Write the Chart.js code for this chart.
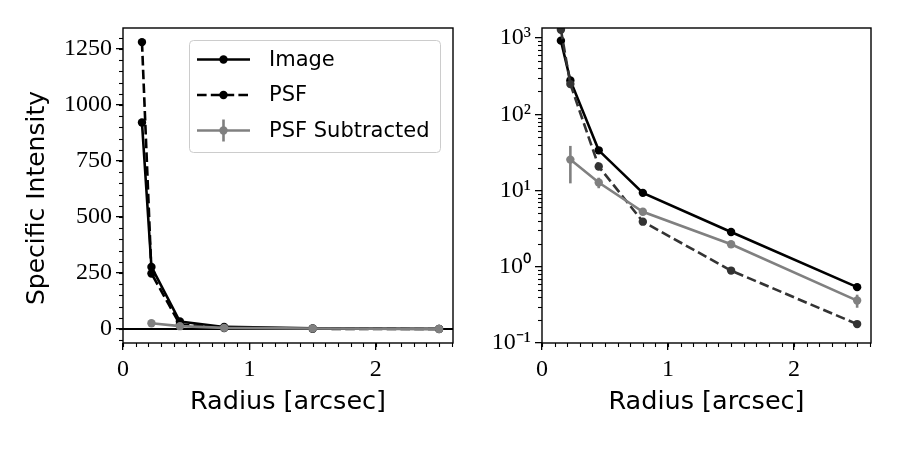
<!DOCTYPE html>
<html><head><meta charset="utf-8">
<script src="https://cdn.jsdelivr.net/npm/chart.js@4/dist/chart.umd.min.js"></script>
<style>
html,body{margin:0;padding:0;background:#fff;width:900px;height:450px;overflow:hidden}
#c1{position:absolute;left:0;top:0}
#c2{position:absolute;left:450px;top:0}
</style></head><body>
<canvas id="c1" width="460" height="450"></canvas>
<canvas id="c2" width="450" height="450"></canvas>
<script>
// ---- data ----
const radius = [0.15, 0.225, 0.45, 0.8, 1.5, 2.5];
const imageVals = [922, 277, 33.6, 9.3, 2.85, 0.54];
const psfVals = [1281, 248, 20.6, 3.9, 0.89, 0.177];
const subVals = [null, 25.4, 12.7, 5.25, 1.97, 0.36];
const subErr = [null, 13, 2, 0.3, 0.12, 0.07];
const linTicks = [0, 250, 500, 750, 1000, 1250];
const logTicks = [0.1, 1, 10, 100, 1000];
const logTickLabels = ['10\u207B\u00B9', '10\u2070', '10\u00B9', '10\u00B2', '10\u00B3'];
const xTicks = [0, 1, 2];
const seriesNames = ['Image', 'PSF', 'PSF Subtracted'];

const SANS = 'DejaVu Sans';
const SERIF = 'Liberation Serif';
Chart.defaults.color = '#000';

function pts(vals){ return radius.map((r,i)=>({x:r, y:vals[i]})); }

function datasets(psfColor){
  return [
    {label:seriesNames[0], data:pts(imageVals), borderColor:'#000', backgroundColor:'#000', borderWidth:2.6, pointRadius:4.2, pointBorderWidth:0, order:3},
    {label:seriesNames[1], data:pts(psfVals), borderColor:psfColor, backgroundColor:psfColor, borderWidth:2.6, borderDash:[9.6,4.2], pointRadius:4.2, pointBorderWidth:0, order:2},
    {label:seriesNames[2], data:pts(subVals), borderColor:'#808080', backgroundColor:'#808080', borderWidth:2.6, pointRadius:4.2, pointBorderWidth:0, order:1, errors:subErr}
  ];
}

const framePlugin = {
  id:'frame',
  beforeDatasetsDraw(chart){
    const o = chart.options.plugins.frame || {};
    const {ctx, chartArea:a} = chart;
    if (o.hline !== undefined){
      const y = chart.scales.y.getPixelForValue(o.hline);
      ctx.save(); ctx.strokeStyle='#000'; ctx.lineWidth=1.8;
      ctx.beginPath(); ctx.moveTo(a.left,y); ctx.lineTo(a.right,y); ctx.stroke(); ctx.restore();
    }
  },
  afterDatasetsDraw(chart){
    const {ctx, chartArea:a} = chart;
    chart.data.datasets.forEach(ds=>{
      if(!ds.errors) return;
      ctx.save();
      ctx.beginPath(); ctx.rect(a.left,a.top,a.right-a.left,a.bottom-a.top); ctx.clip();
      ctx.strokeStyle = ds.borderColor; ctx.lineWidth = 2.6;
      ds.data.forEach((p,i)=>{
        if(p.y==null || ds.errors[i]==null) return;
        const x = chart.scales.x.getPixelForValue(p.x);
        const y1 = chart.scales.y.getPixelForValue(p.y + ds.errors[i]);
        const y2 = chart.scales.y.getPixelForValue(p.y - ds.errors[i]);
        ctx.beginPath(); ctx.moveTo(x,y1); ctx.lineTo(x,y2); ctx.stroke();
      });
      ctx.restore();
    });
  },
  afterDraw(chart){
    const o = chart.options.plugins.frame || {};
    const {ctx, chartArea:a} = chart;
    ctx.save();
    ctx.strokeStyle='#000'; ctx.lineWidth=1.4;
    ctx.strokeRect(a.left, a.top, a.right-a.left, a.bottom-a.top);
    ctx.lineWidth=1.1;
    const xs = chart.scales.x, ys = chart.scales.y;
    for(let k=Math.ceil(xs.min/o.xMinor); k*o.xMinor<=xs.max+1e-9; k++){
      const x = Math.round(xs.getPixelForValue(k*o.xMinor))+0.5;
      ctx.beginPath(); ctx.moveTo(x,a.bottom); ctx.lineTo(x,a.bottom+4); ctx.stroke();
    }
    if(o.yMinor==='log'){
      for(let d=-2; d<=4; d++){
        for(let m=2;m<=9;m++){
          const v = m*Math.pow(10,d);
          if(v<ys.min||v>ys.max) continue;
          const y = Math.round(ys.getPixelForValue(v))+0.5;
          ctx.beginPath(); ctx.moveTo(a.left-4,y); ctx.lineTo(a.left,y); ctx.stroke();
        }
      }
    } else {
      for(let k=Math.ceil(ys.min/o.yMinor); k*o.yMinor<=ys.max; k++){
        const y = Math.round(ys.getPixelForValue(k*o.yMinor))+0.5;
        ctx.beginPath(); ctx.moveTo(a.left-4,y); ctx.lineTo(a.left,y); ctx.stroke();
      }
    }
    if(o.legend){
      const L = o.legend;
      ctx.fillStyle='rgba(255,255,255,0.85)'; ctx.strokeStyle='#cccccc'; ctx.lineWidth=1;
      ctx.beginPath(); ctx.roundRect(L.x+0.5, L.y+0.5, L.w, L.h, 4); ctx.fill(); ctx.stroke();
      const rows=[59.5,95,130.5];
      chart.data.datasets.forEach((ds,i)=>{
        const y=rows[i];
        ctx.strokeStyle=ds.borderColor; ctx.lineWidth=ds.borderWidth;
        ctx.setLineDash(ds.borderDash||[]);
        ctx.beginPath(); ctx.moveTo(L.x+8,y); ctx.lineTo(L.x+61,y); ctx.stroke();
        ctx.setLineDash([]);
        if(ds.errors){
          ctx.beginPath(); ctx.moveTo(L.x+34.5,y-11); ctx.lineTo(L.x+34.5,y+11); ctx.stroke();
        }
        ctx.fillStyle=ds.backgroundColor;
        ctx.beginPath(); ctx.arc(L.x+34.5,y,4.2,0,Math.PI*2); ctx.fill();
        ctx.fillStyle='#000'; ctx.font='21px '+SANS; ctx.textBaseline='middle'; ctx.textAlign='left';
        ctx.fillText(ds.label, L.x+80, y+1);
      });
    }
    ctx.restore();
  }
};

function xScale(){
  return {
    type:'linear', min:0, max:2.61,
    afterBuildTicks:s=>{ s.ticks = xTicks.map(v=>({value:v})); },
    afterFit:s=>{ s.height = 107; },
    grid:{drawOnChartArea:false, drawTicks:true, tickLength:7, color:'#000', lineWidth:1.3},
    border:{display:false},
    ticks:{font:{family:SERIF, size:24}, padding:5, maxRotation:0, callback:v=>String(v)},
    title:{display:true, text:'Radius [arcsec]', font:{family:SANS, size:25.5}, padding:{top:0,bottom:32}}
  };
}

new Chart(document.getElementById('c1'), {
  type:'line',
  data:{datasets:datasets('#000')},
  plugins:[framePlugin],
  options:{
    responsive:false, animation:false, devicePixelRatio:1,
    layout:{padding:{top:28, right:7, left:0, bottom:0}},
    plugins:{legend:{display:false}, tooltip:{enabled:false},
      frame:{hline:0, xMinor:0.1, yMinor:50, legend:{x:189, y:40, w:251, h:112}}},
    scales:{
      x:xScale(),
      y:{
        type:'linear', min:-62.5, max:1344,
        afterBuildTicks:s=>{ s.ticks = linTicks.map(v=>({value:v})); },
        afterFit:s=>{ s.width = 123; },
        grid:{drawOnChartArea:false, drawTicks:true, tickLength:7, color:'#000', lineWidth:1.3},
        border:{display:false},
        ticks:{font:{family:SERIF, size:24}, padding:4, callback:v=>String(v)},
        title:{display:true, text:'Specific Intensity\u2002\u2002', font:{family:SANS, size:25}, padding:{top:22,bottom:0}}
      }
    }
  }
});

new Chart(document.getElementById('c2'), {
  type:'line',
  data:{datasets:datasets('#333333')},
  plugins:[framePlugin],
  options:{
    responsive:false, animation:false, devicePixelRatio:1,
    layout:{padding:{top:28, right:29, left:0, bottom:0}},
    plugins:{legend:{display:false}, tooltip:{enabled:false},
      frame:{xMinor:0.1, yMinor:'log'}},
    scales:{
      x:xScale(),
      y:{
        type:'logarithmic', min:0.1, max:1350,
        afterBuildTicks:s=>{ s.ticks = logTicks.map(v=>({value:v})); },
        afterFit:s=>{ s.width = 92; },
        grid:{drawOnChartArea:false, drawTicks:true, tickLength:7, color:'#000', lineWidth:1.3},
        border:{display:false},
        ticks:{font:{family:SERIF, size:24}, padding:4,
          callback:v=>{ const i = logTicks.findIndex(t=>Math.abs(t-v)/t<1e-6); return i>=0?logTickLabels[i]:''; }}
      }
    }
  }
});
</script>
</body></html>
